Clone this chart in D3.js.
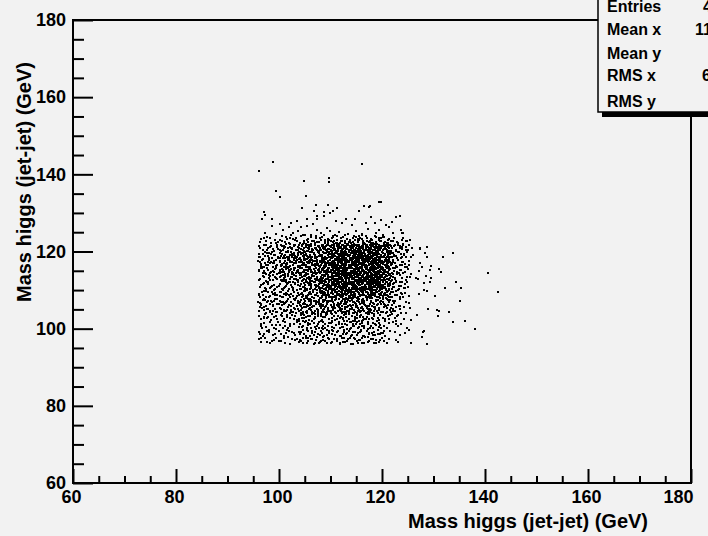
<!DOCTYPE html>
<html><head><meta charset="utf-8">
<script src="https://cdn.jsdelivr.net/npm/d3@7"></script>
<style>
html,body{margin:0;padding:0;background:#f2f2f2;}
svg{display:block;}
text{font-family:"Liberation Sans",Arial,Helvetica,sans-serif;font-weight:bold;fill:#000;}
</style>
</head><body>
<svg id="c" width="708" height="536"></svg>
<script>
// ---------------- data ----------------
const xMajorTicks = [60, 80, 100, 120, 140, 160, 180];
const yMajorTicks = [60, 80, 100, 120, 140, 160, 180];
const xTitle = "Mass higgs (jet-jet) (GeV)";
const yTitle = "Mass higgs (jet-jet) (GeV)";
const statsLabels = ["Entries", "Mean x", "Mean y", "RMS x", "RMS y"];
const statsValues = ["4000", "112.4", "112", "6.874", "7.1"];

// scatter points, flat list of (mjj_x, mjj_y) pairs in GeV
const massPairs = [
// upper tail
96.1,140.9, 98.9,143.1, 99.4,135.7, 100.2,134.1, 104.9,138.3, 105.2,134.4, 109.8,139.1, 109.8,138.0, 116.2,142.7,
104.4,131.3, 107.2,132.1, 106.8,130.6, 109.5,132.1, 108.8,130.3, 108.8,129.2, 109.9,129.9, 111.2,131.3, 110.4,130.4,
107.4,129.1, 107.4,128.5, 97.1,130.2, 97.3,129.5, 96.7,128.3, 98.6,128.3, 105.4,128.3, 113.1,128.3, 114.8,128.3,
115.5,130.6, 116.5,131.8, 117.4,131.5, 117.7,131.9, 119.4,132.7, 119.9,132.7, 117.8,128.9, 122.7,128.9, 123.4,129.1,
102.4,127.4, 111.0,127.8, 114.2,126.9, 116.8,127.5, 103.5,127.9, 119.8,128.1, 121.9,127.7, 100.1,127.1, 106.6,127.2,
// y 124-127
98.6,126.6, 100.8,125.5, 101.9,126.4, 104.3,126.3, 105.4,126.6, 107.4,125.6, 109.3,126.0, 109.9,125.4, 112.3,127.3,
118.6,127.3, 120.7,126.9, 121.4,126.3, 123.6,125.7, 123.9,124.7, 99.5,124.6, 102.7,124.9, 103.6,125.2, 106.2,124.4,
108.1,124.8, 110.8,124.3, 111.6,125.1, 113.4,124.6, 114.9,125.3, 116.1,124.5, 117.3,125.8, 118.9,124.9, 120.1,124.2,
122.2,124.8, 97.2,124.9, 105.1,124.2, 115.6,124.1, 119.5,125.6, 124.0,124.7,
// y 122-124
96.3,122.4, 97.1,123.6, 97.7,123.7, 98.4,122.2, 99.2,123.1, 100.5,122.7, 101.3,123.8, 101.9,122.3, 102.8,123.3,
103.5,122.6, 104.2,123.9, 104.9,122.1, 105.7,123.2, 106.4,122.8, 107.1,123.5, 107.8,122.4, 108.3,123.7, 108.9,122.9,
109.5,122.2, 110.2,123.4, 110.7,122.6, 111.3,123.1, 111.9,122.3, 112.4,123.8, 112.8,122.7, 113.3,123.3, 113.9,122.1,
114.4,123.6, 114.8,122.9, 115.3,122.4, 115.8,123.5, 116.3,122.8, 116.9,123.9, 117.4,122.5, 117.9,123.2, 118.3,122.2,
118.8,123.7, 119.4,122.9, 119.9,123.4, 120.5,122.4, 121.1,123.1, 121.7,122.6, 122.4,123.5, 123.2,122.3, 124.1,123.4,
125.4,122.9, 99.8,122.5, 106.9,122.2, 110.4,123.9, 113.6,122.5, 116.1,123.2, 118.1,122.9, 120.2,123.8, 109.7,123.0,
115.0,123.8, 124.7,122.8, 124.8,122.6, 123.9,123.0,
// y 120-122
96.2,121.3, 96.8,120.4, 97.4,121.8, 97.9,120.9, 98.5,121.5, 99.0,120.2, 99.6,121.1, 99.9,120.7,
100.3,121.6, 100.8,120.5, 101.2,121.2, 101.7,120.1, 102.1,121.9, 102.6,120.8, 103.0,121.4, 103.4,120.3, 103.8,121.0, 103.9,121.7,
104.2,120.6, 104.5,121.5, 104.9,120.2, 105.3,121.1, 105.6,121.8, 105.9,120.7, 106.3,121.3, 106.6,120.4, 106.9,121.7,
107.2,120.9, 107.5,121.4, 107.8,120.1, 107.9,121.0, 104.7,121.9,
108.1,120.5, 108.3,121.6, 108.6,120.9, 108.8,121.2, 109.1,120.3, 109.3,121.8, 109.6,120.7, 109.9,121.4, 110.1,120.1,
110.4,121.0, 110.6,121.7, 110.9,120.6, 111.2,121.3, 111.4,120.2, 111.7,121.9, 111.9,120.8, 108.5,120.0, 110.7,120.4,
112.1,121.2, 112.2,120.4, 112.4,121.8, 112.6,120.9, 112.7,121.5, 112.9,120.2, 113.1,121.1, 113.2,120.6, 113.4,121.9,
113.6,120.3, 113.8,121.4, 113.9,120.8, 114.1,121.7, 114.3,120.1, 114.4,121.0, 114.6,120.5, 114.8,121.6, 114.9,120.9,
115.1,121.3, 115.3,120.4, 115.4,121.8, 115.6,120.7, 115.8,121.1, 115.9,120.2, 116.1,121.5, 116.3,120.6, 116.4,121.9,
116.6,120.3, 116.8,121.2, 116.9,120.8, 117.1,121.6, 117.3,120.1, 117.4,121.0, 117.6,120.5, 117.8,121.4, 117.9,120.9,
118.1,121.8, 118.3,120.4, 118.4,121.2, 118.6,120.7, 118.8,121.5, 118.9,120.2, 119.1,121.1, 119.3,120.6, 119.4,121.7,
119.6,120.3, 119.8,121.3, 119.9,120.9, 112.5,120.0, 114.0,121.3, 116.0,120.0, 118.5,121.9,
120.2,121.4, 120.4,120.6, 120.7,121.8, 120.9,120.3, 121.2,121.1, 121.4,120.8, 121.6,121.6, 121.8,120.2, 120.5,121.0,
122.3,121.3, 122.7,120.5, 123.1,121.7, 123.5,120.9, 123.8,121.2, 124.6,120.4, 125.8,121.0, 124.1,121.7, 125.3,121.7,
127.4,120.8, 128.7,121.1, 127.3,120.6,
// y 118-120
96.4,118.7, 97.6,119.5, 96.9,118.1, 97.2,119.8, 98.1,118.4, 99.3,119.2, 98.7,119.9, 97.9,118.9, 99.8,118.2, 98.4,119.4, 96.1,119.3,
101.5,118.6, 100.2,119.7, 102.9,118.3, 101.1,119.1, 103.6,119.6, 100.7,118.2, 102.3,119.9, 103.1,118.8, 101.9,118.0,
100.4,118.9, 103.8,118.1, 102.6,119.4, 101.3,119.8, 102.0,118.5,
104.3,119.3, 106.2,118.1, 105.1,119.8, 107.4,118.6, 104.8,118.4, 106.8,119.5, 105.5,118.9, 107.9,119.1, 104.1,118.0,
106.5,119.9, 105.9,118.5, 107.1,118.2, 104.6,119.6, 106.0,119.2, 107.7,119.7, 105.3,118.1, 104.9,119.0, 106.9,118.8,
108.2,118.9, 110.6,119.4, 109.3,118.2, 111.5,118.7, 108.7,119.7, 110.1,118.5, 111.9,119.3, 109.8,119.9, 108.4,118.3,
110.9,118.1, 109.5,119.0, 111.2,119.8, 108.9,118.6, 110.3,119.2, 111.7,118.4, 109.1,119.5, 108.0,119.2, 110.8,119.7,
109.7,118.5, 111.3,118.0, 108.6,118.0, 110.5,118.8,
112.3,118.5, 114.7,119.2, 113.1,118.1, 116.4,119.6, 115.2,118.7, 117.8,118.3, 112.9,119.8, 119.1,118.9, 114.2,118.4,
118.5,119.5, 113.6,119.1, 116.9,118.2, 115.7,119.9, 112.1,119.3, 117.2,119.0, 119.6,118.2, 114.9,118.0, 113.4,118.8,
118.1,119.7, 116.1,118.6, 112.6,118.1, 115.5,119.4, 119.9,119.1, 117.5,118.7, 113.9,119.6, 114.4,118.9, 116.7,119.3,
118.8,118.4, 112.8,119.0, 115.9,118.3, 117.9,119.9, 113.3,119.4, 119.3,119.8, 114.1,119.9, 116.3,118.0, 118.3,118.9,
112.4,119.6, 115.0,118.5, 117.0,118.4, 119.7,118.6, 113.7,118.4, 114.6,119.5, 116.6,118.8, 118.6,118.1, 112.0,118.8,
115.3,119.1, 117.4,119.6, 119.0,119.4, 113.0,119.2, 114.0,118.2, 116.0,119.7, 117.7,118.0, 118.0,118.6, 119.4,118.0,
115.8,118.9, 112.7,118.4, 113.8,118.0, 114.5,118.6, 116.2,119.1, 117.3,118.5, 118.9,119.2, 119.2,118.5, 115.6,118.1, 113.5,119.9,
120.3,118.8, 121.6,119.4, 120.8,118.2, 121.1,119.9, 120.1,119.5, 121.9,118.6, 120.6,119.1, 121.4,118.0, 120.9,118.7, 121.8,119.7,
122.4,118.9, 123.7,119.3, 122.9,118.3, 123.2,119.8, 122.1,119.6, 123.9,118.6, 124.3,119.2, 125.6,118.5, 124.9,119.9,
126.1,119.1, 128.3,119.5, 133.8,119.7, 128.8,118.7, 131.9,118.5,
// y 116-118
96.3,117.2, 97.5,116.4, 96.7,117.9, 98.2,116.9, 99.1,117.5, 97.1,116.1, 98.8,117.1, 99.7,116.6, 96.5,116.7, 98.0,117.8,
99.4,116.2, 97.8,117.4, 96.9,116.0,
100.6,116.8, 102.2,117.6, 101.4,116.3, 103.3,117.1, 100.1,117.4, 102.8,116.5, 101.8,117.9, 103.7,116.2, 100.9,116.1,
102.5,117.2, 103.0,117.8, 101.1,117.5, 100.4,116.6, 103.9,117.4, 101.6,116.9, 102.0,116.0,
104.4,116.5, 106.1,117.3, 105.2,116.1, 107.3,117.8, 104.9,117.1, 106.7,116.4, 105.8,117.6, 107.6,116.8, 104.2,117.9,
106.4,116.9, 105.5,117.4, 107.0,116.2, 104.7,116.8, 106.0,117.9, 107.9,117.2, 105.0,116.6, 106.9,117.5, 104.0,116.3,
105.7,116.0, 107.4,116.5,
108.3,116.9, 110.5,117.5, 109.2,116.2, 111.4,117.1, 108.8,117.8, 110.0,116.7, 111.8,116.3, 109.6,117.3, 108.1,116.4,
110.8,117.9, 109.4,117.0, 111.1,116.6, 108.6,117.4, 110.2,116.0, 111.6,117.7, 109.0,116.8, 108.4,117.2, 110.7,116.5,
109.9,117.7, 111.3,116.1, 108.0,117.6, 110.4,117.1, 109.7,116.4, 111.9,117.4,
112.2,116.4, 114.5,117.3, 113.0,116.9, 116.3,117.7, 115.1,116.2, 117.6,116.8, 112.8,117.5, 119.2,116.5, 114.1,117.9,
118.4,117.1, 113.5,116.1, 116.8,116.6, 115.6,117.4, 112.0,117.0, 117.1,117.9, 119.5,117.3, 114.8,116.7, 113.3,117.2,
118.0,116.3, 116.0,117.1, 112.5,116.8, 115.4,117.8, 119.8,116.9, 117.4,116.4, 113.8,117.7, 114.3,116.5, 116.6,117.0,
118.7,117.6, 112.9,116.2, 115.8,116.8, 117.9,117.4, 113.2,117.8, 119.0,117.9, 114.0,116.3, 116.2,116.1, 118.2,116.9,
112.3,117.3, 115.2,117.6, 117.2,117.2, 119.6,116.1, 113.6,116.6, 114.7,117.6, 116.5,116.5, 118.5,116.2, 112.6,117.9,
115.0,116.4, 117.5,117.7, 119.3,117.0, 113.1,116.5, 114.2,117.1, 116.9,117.5, 117.8,116.0, 118.9,116.7, 119.9,117.6,
115.7,116.0, 112.7,116.6, 113.9,116.0, 114.6,116.9, 116.4,117.4, 117.0,116.3, 118.6,117.8, 119.4,116.6, 115.5,117.0,
113.4,117.4, 118.1,117.5, 116.7,117.8, 112.1,117.7, 114.9,117.9,
120.2,116.7, 121.5,117.3, 120.7,116.1, 121.0,117.8, 120.4,117.2, 121.8,116.4, 120.9,116.9, 121.3,116.0, 120.0,117.6,
121.7,117.1, 120.6,117.9, 122.5,117.0, 123.4,116.4, 122.2,117.7, 123.8,117.3, 122.8,116.2, 123.1,117.9,
124.5,116.8, 125.2,117.5, 124.8,116.1, 127.4,116.9, 127.7,116.1, 129.6,116.2,
// y 114-116
96.2,115.1, 97.3,114.3, 96.6,115.8, 98.4,114.7, 99.2,115.4, 97.0,114.9, 98.9,115.9, 99.6,114.1, 96.8,114.5, 97.9,115.3,
99.0,114.6, 97.6,115.7, 98.1,114.0,
100.5,114.6, 102.3,115.5, 101.2,114.2, 103.4,115.0, 100.2,115.3, 102.7,114.4, 101.7,115.8, 103.6,114.8, 100.8,114.0,
102.0,115.1, 103.1,115.7, 101.4,115.4, 100.1,114.8, 103.8,114.3, 101.9,114.7, 102.5,114.1,
104.3,114.4, 106.2,115.2, 105.1,114.0, 107.2,115.6, 104.8,115.0, 106.6,114.3, 105.9,115.5, 107.7,114.7, 104.1,115.8,
106.3,114.8, 105.4,115.3, 107.1,114.1, 104.6,114.6, 106.0,115.9, 107.8,115.1, 105.2,114.5, 106.8,115.4, 104.0,114.2,
105.6,114.9, 107.4,114.4,
108.2,114.8, 110.4,115.4, 109.1,114.1, 111.5,115.0, 108.7,115.7, 110.1,114.6, 111.7,114.2, 109.5,115.2, 108.0,114.3,
110.9,115.8, 109.3,114.9, 111.2,114.5, 108.5,115.3, 110.3,114.0, 111.8,115.6, 109.8,114.7, 108.4,115.1, 110.6,114.4,
109.7,115.6, 111.0,114.0, 108.9,115.9, 110.7,115.0, 109.4,114.3, 111.4,115.3,
112.3,114.3, 114.6,115.2, 113.1,114.8, 116.2,115.6, 115.0,114.1, 117.7,114.7, 112.9,115.4, 119.1,114.4, 114.2,115.8,
118.3,115.0, 113.4,114.0, 116.7,114.5, 115.5,115.3, 112.1,114.9, 117.0,115.8, 119.6,115.2, 114.9,114.6, 113.2,115.1,
118.1,114.2, 116.1,115.0, 112.6,114.7, 115.3,115.7, 119.9,114.8, 117.3,114.3, 113.7,115.6, 114.4,114.4, 116.5,114.9,
118.8,115.5, 112.8,114.1, 115.7,114.7, 117.8,115.3, 113.0,115.7, 119.3,115.8, 114.0,114.2, 116.3,114.0, 118.4,114.8,
112.4,115.2, 115.1,115.5, 117.4,115.1, 119.7,114.0, 113.5,114.5, 114.7,115.5, 116.6,114.4, 118.6,114.1, 112.5,115.8,
115.9,114.3, 117.6,115.6, 119.2,114.9, 113.3,114.4, 114.1,115.0, 116.9,115.4, 117.9,114.0, 118.9,114.6, 119.8,115.5,
115.6,114.0, 112.7,114.5, 113.8,114.0, 114.5,114.8, 116.4,115.3, 117.1,114.2, 118.5,115.7, 119.4,114.5, 115.4,114.9, 116.8,115.9,
120.3,114.6, 121.4,115.2, 120.8,114.0, 121.1,115.7, 120.1,115.3, 121.9,114.4, 120.5,114.9, 121.6,114.1, 120.9,115.8, 121.2,114.8,
122.4,114.9, 123.3,114.3, 122.1,115.6, 123.7,115.2, 122.9,114.1, 124.4,114.7, 125.1,115.4, 125.7,114.2,
129.4,115.2, 131.1,115.4, 131.4,114.8, 140.6,114.5, 127.1,114.9,
// y 112-114
96.4,113.0, 97.4,112.3, 96.9,113.7, 98.3,112.6, 99.3,113.4, 97.8,112.1, 98.8,113.8, 99.7,112.9, 96.1,112.5, 98.0,113.2,
100.6,112.4, 102.4,113.3, 101.3,112.0, 103.3,112.9, 100.3,113.6, 102.8,112.2, 101.8,113.7, 103.7,112.6, 100.9,113.1,
102.1,112.8, 103.0,113.9, 101.0,112.3,
104.4,112.3, 106.3,113.1, 105.2,112.0, 107.3,113.5, 104.9,112.9, 106.7,112.2, 105.8,113.4, 107.6,112.7, 104.2,113.8,
106.1,112.6, 105.5,113.2, 107.0,112.1, 104.7,112.5, 106.4,113.7, 107.9,113.0, 105.0,113.6,
108.3,112.7, 110.5,113.3, 109.2,112.1, 111.4,112.9, 108.8,113.6, 110.0,112.5, 111.7,112.1, 109.6,113.0, 108.1,112.3,
110.8,113.7, 109.4,112.8, 111.1,112.4, 108.6,113.2, 110.2,112.0, 111.9,113.5, 109.0,112.6, 108.4,113.9, 110.7,112.3,
109.9,113.4, 111.3,113.9, 108.9,112.0, 110.4,112.8,
112.2,112.3, 114.5,113.1, 113.0,112.7, 116.3,113.5, 115.1,112.0, 117.6,112.6, 112.8,113.3, 119.2,112.2, 114.1,113.7,
118.4,112.9, 113.5,112.0, 116.8,112.4, 115.6,113.2, 112.0,112.8, 117.1,113.6, 119.5,113.0, 114.8,112.5, 113.3,113.1,
118.0,112.1, 116.0,112.9, 112.5,112.6, 115.4,113.6, 119.8,112.7, 117.4,112.2, 113.8,113.5, 114.3,112.2, 116.6,112.8,
118.7,113.4, 112.9,112.0, 115.8,112.5, 117.9,113.2, 113.2,113.8, 119.0,113.7, 114.0,112.1, 116.2,112.0, 118.2,112.7,
112.3,113.1, 115.2,113.4, 117.2,113.0, 119.6,112.0, 113.6,112.4, 114.7,113.4, 116.5,112.3, 118.5,112.0, 112.6,113.7,
115.0,112.3, 117.5,113.5, 119.3,112.8, 113.1,112.4, 114.2,112.9, 116.9,113.2, 117.8,112.0, 118.9,112.6, 119.9,113.5,
115.7,113.8, 116.4,113.9,
120.2,112.6, 121.5,113.1, 120.7,112.0, 121.0,113.6, 120.4,113.2, 121.8,112.3, 120.9,112.8, 121.3,113.9, 120.0,113.5,
122.5,112.8, 123.4,112.2, 122.2,113.5, 123.8,113.1, 122.8,112.0, 124.6,112.6, 125.4,113.5, 124.9,112.1,
129.6,113.2, 129.4,112.2, 128.5,113.7, 134.4,112.2, 126.6,113.2, 126.9,112.8,
// y 110-112
96.3,110.9, 97.5,110.2, 96.8,111.6, 98.2,110.5, 99.1,111.3, 97.1,111.9, 98.7,111.0, 99.6,110.7, 97.9,111.5,
100.5,110.3, 102.3,111.2, 101.2,110.8, 103.4,110.1, 100.2,111.5, 102.7,110.6, 101.7,111.8, 103.6,111.4, 100.8,110.0,
102.0,110.4, 103.1,111.7, 101.4,111.1,
104.3,110.2, 106.2,111.0, 105.1,110.6, 107.2,111.4, 104.8,111.8, 106.6,110.1, 105.9,111.3, 107.7,110.5, 104.1,111.1,
106.3,111.7, 105.4,110.3, 107.1,110.9, 104.6,110.7, 106.0,110.4, 107.8,111.6, 105.6,111.9,
108.2,110.6, 110.4,111.2, 109.1,110.0, 111.5,110.8, 108.7,111.5, 110.1,110.4, 111.7,111.9, 109.5,111.0, 108.0,110.1,
110.9,111.6, 109.3,110.7, 111.2,110.3, 108.5,111.1, 110.3,111.9, 111.8,110.5, 109.8,111.4, 108.4,111.8, 110.6,110.2,
109.7,110.4, 111.0,111.3,
112.3,110.2, 114.6,111.1, 113.1,110.7, 116.2,111.5, 115.0,110.0, 117.7,110.6, 112.9,111.3, 119.1,110.3, 114.2,111.7,
118.3,110.9, 113.4,110.0, 116.7,110.4, 115.5,111.2, 112.1,110.8, 117.0,111.7, 119.6,111.1, 114.9,110.5, 113.2,111.0,
118.1,110.1, 116.1,110.9, 112.6,110.6, 115.3,111.6, 119.9,110.7, 117.3,110.2, 113.7,111.5, 114.4,110.3, 116.5,110.8,
118.8,111.4, 112.8,111.9, 115.7,110.6, 117.8,111.2, 113.0,111.6, 119.3,111.7, 114.0,110.1, 116.3,110.0, 118.4,110.7,
112.4,111.4, 115.1,111.9, 117.4,111.0, 119.7,110.0, 113.5,110.4, 114.7,111.4, 116.6,110.3, 118.6,111.8, 112.5,110.0,
115.9,110.2, 117.6,111.5, 119.2,110.8,
120.3,110.5, 121.4,111.1, 120.8,110.0, 121.1,111.6, 120.1,111.2, 121.9,110.3, 120.5,110.8, 121.6,111.9,
122.4,110.8, 123.3,110.2, 122.1,111.5, 123.7,111.1, 124.5,110.6, 125.1,110.9,
128.2,111.8, 128.2,110.0, 128.7,109.8, 135.3,110.6, 132.2,110.5,
// y 108-110
96.2,108.8, 97.4,108.1, 96.7,109.5, 98.3,108.4, 99.2,109.2, 97.0,109.8, 98.8,108.9, 99.7,108.6, 97.8,109.4, 96.4,108.2, 99.0,109.9,
100.6,108.2, 102.4,109.1, 101.3,108.7, 103.3,108.0, 100.3,109.4, 102.8,108.5, 101.8,109.7, 103.7,109.3, 100.9,108.9,
102.1,108.3, 103.0,109.6, 101.5,109.0, 100.1,108.5, 103.9,108.8,
104.4,108.1, 106.3,108.9, 105.2,108.5, 107.3,109.3, 104.9,109.7, 106.7,108.0, 105.8,109.2, 107.6,108.4, 104.2,109.0,
106.1,109.6, 105.5,108.2, 107.0,108.8, 104.7,108.6, 106.4,108.3, 107.9,109.5, 105.0,109.9,
108.3,108.5, 110.5,109.1, 109.2,108.0, 111.4,108.7, 108.8,109.4, 110.0,108.3, 111.7,109.8, 109.6,108.9, 108.1,108.0,
110.8,109.5, 109.4,108.6, 111.1,108.2, 108.6,109.0, 110.2,109.8, 111.9,108.4, 109.0,109.3, 108.4,109.7, 110.7,108.1,
112.2,108.1, 114.5,109.0, 113.0,108.6, 116.3,109.4, 115.1,108.0, 117.6,108.5, 112.8,109.2, 119.2,108.2, 114.1,109.6,
118.4,108.8, 113.5,108.0, 116.8,108.3, 115.6,109.1, 112.0,108.7, 117.1,109.6, 119.5,109.0, 114.8,108.4, 113.3,108.9,
118.0,108.0, 116.0,108.8, 112.5,108.5, 115.4,109.5, 119.8,108.6, 117.4,108.1, 113.8,109.4, 114.3,108.2, 116.6,108.7,
118.7,109.3, 112.9,109.8, 115.8,108.4, 117.9,109.1, 113.2,109.7, 119.0,109.6, 114.0,108.0, 116.2,109.9, 118.2,108.6,
112.3,109.3, 115.2,109.8, 117.2,108.9, 119.6,108.0,
120.2,108.5, 121.5,109.0, 120.7,108.0, 121.0,109.5, 120.4,109.1, 121.8,108.2, 120.9,108.7,
122.5,108.7, 123.4,108.1, 122.2,109.4, 123.8,109.0, 124.5,109.2, 125.3,108.4,
130.3,108.5, 142.5,109.6, 127.2,108.9,
// y 106-108
96.3,106.7, 97.5,106.0, 96.8,107.4, 98.2,106.3, 99.1,107.1, 97.1,107.7, 98.7,106.8, 99.6,106.5, 97.9,107.3, 96.5,106.1, 99.3,107.8,
100.5,106.1, 102.3,107.0, 101.2,106.6, 103.4,106.0, 100.2,107.3, 102.7,106.4, 101.7,107.6, 103.6,107.2, 100.8,106.8,
102.0,106.2, 103.1,107.5, 101.4,106.9, 100.0,106.4, 103.8,106.7,
104.3,106.0, 106.2,106.8, 105.1,106.4, 107.2,107.2, 104.8,107.6, 106.6,106.0, 105.9,107.1, 107.7,106.3, 104.1,106.9,
106.3,107.5, 105.4,106.1, 107.1,106.7, 104.6,106.5, 106.0,106.2, 107.8,107.4, 105.6,107.8,
108.2,106.4, 110.4,107.0, 109.1,106.0, 111.5,106.6, 108.7,107.3, 110.1,106.2, 111.7,107.7, 109.5,106.8, 108.0,106.0,
110.9,107.4, 109.3,106.5, 111.2,106.1, 108.5,106.9, 110.3,107.7, 111.8,106.3, 109.8,107.2,
112.3,106.0, 114.6,106.9, 113.1,106.5, 116.2,107.3, 115.0,106.0, 117.7,106.4, 112.9,107.1, 119.1,106.1, 114.2,107.5,
118.3,106.7, 113.4,106.0, 116.7,106.2, 115.5,107.0, 112.1,106.6, 117.0,107.5, 119.6,106.9, 114.9,106.3, 113.2,106.8,
118.1,106.0, 116.1,106.7, 112.6,106.4, 115.3,107.4, 119.9,106.5, 117.3,106.0, 113.7,107.3, 114.4,106.1, 116.5,106.6,
118.8,107.2, 112.8,107.7, 115.7,106.4, 117.8,107.0, 113.0,107.6, 119.3,107.5, 114.0,106.0, 116.3,107.8, 118.4,106.5,
120.3,106.3, 121.4,106.9, 120.8,106.0, 121.1,107.4, 120.1,107.0, 121.9,106.1,
122.4,106.6, 123.3,106.0, 122.1,107.3, 124.7,107.0, 125.3,106.6, 135.1,107.2,
// y 104-106
96.2,104.6, 97.4,104.0, 96.7,105.3, 98.3,104.2, 99.2,105.0, 97.0,105.6, 98.8,104.7, 99.7,104.4, 97.8,105.2,
100.6,104.0, 102.4,104.9, 101.3,104.5, 103.3,104.1, 100.3,105.2, 102.8,104.3, 101.8,105.5, 103.7,105.1, 100.9,104.7,
102.1,104.1, 103.0,105.4, 101.5,104.8,
104.4,104.0, 106.3,104.8, 105.2,104.3, 107.3,105.1, 104.9,105.5, 106.7,104.1, 105.8,105.0, 107.6,104.2, 104.2,104.8,
106.1,105.4, 105.5,104.0, 107.0,104.6, 104.7,104.4, 106.4,105.7,
108.3,104.3, 110.5,104.9, 109.2,104.1, 111.4,104.5, 108.8,105.2, 110.0,104.1, 111.7,105.6, 109.6,104.7, 108.1,105.8,
110.8,105.3, 109.4,104.4, 111.1,104.0, 108.6,104.8, 110.2,105.6,
112.2,104.0, 114.5,104.8, 113.0,104.4, 116.3,105.2, 115.1,104.1, 117.6,104.3, 112.8,105.0, 119.2,104.0, 114.1,105.4,
118.4,104.6, 113.5,104.1, 116.8,104.1, 115.6,104.9, 112.0,104.5, 117.1,105.4, 119.5,104.8, 114.8,104.2, 113.3,104.7,
118.0,104.0, 116.0,104.6, 112.5,104.3, 115.4,105.3, 119.8,104.4, 117.4,104.9, 113.8,105.2, 114.3,104.0, 116.6,104.5,
118.7,105.1, 112.9,105.6, 115.8,104.3, 117.9,104.9, 113.2,105.5,
120.2,104.4, 121.5,104.9, 120.7,104.0, 121.0,105.3, 121.8,104.2, 122.5,104.5, 123.4,105.0, 122.2,105.2,
124.7,104.1, 125.4,105.3, 133.1,104.4, 130.7,104.8, 131.0,104.5, 129.0,105.0,
// y 102-104
96.5,102.4, 97.2,103.7, 97.0,103.1, 98.5,102.2, 99.0,103.0, 97.7,102.7, 99.4,103.4,
100.7,102.1, 102.1,102.7, 101.0,102.5, 103.2,103.2, 100.4,103.5, 102.9,102.4, 101.5,103.6, 103.8,102.5,
104.5,102.8, 106.0,103.4, 105.3,102.1, 107.0,102.8, 104.6,103.8, 106.8,102.6, 105.7,103.2, 107.5,103.7, 103.9,102.1, 106.5,102.0,
108.4,102.3, 110.2,102.8, 109.3,103.7, 111.3,102.6, 108.9,103.1, 110.3,102.0, 111.5,103.3, 109.7,102.6, 108.1,103.9, 110.7,103.3,
112.4,102.7, 114.8,103.0, 113.3,102.1, 116.0,103.6, 115.2,102.7, 117.5,102.4, 112.7,103.5, 119.3,102.8, 114.4,102.1,
118.5,103.7, 113.6,103.9, 116.5,102.6, 115.7,103.2, 112.0,103.0, 117.2,103.8, 119.4,102.2, 114.7,102.5, 113.0,103.1,
118.3,102.6, 116.3,102.2, 112.8,103.8, 115.5,102.1, 119.7,103.5, 117.1,103.1,
120.5,102.5, 121.2,103.4, 120.6,102.1, 121.9,103.7, 122.6,102.8, 123.1,103.6,
124.2,102.4, 125.6,102.3, 126.7,103.6, 130.8,103.3,
// y 100-102
96.6,100.7, 97.1,101.4, 96.7,100.1, 98.6,101.0, 99.4,100.9, 99.9,101.7,
100.8,100.3, 102.2,101.3, 101.1,100.8, 103.5,101.6, 101.7,100.2, 103.9,100.5,
104.6,100.6, 106.1,101.3, 105.4,100.2, 107.5,101.1, 104.7,101.9, 106.9,100.4, 105.6,101.5, 107.8,100.2,
108.5,100.8, 110.3,101.6, 109.0,100.3, 111.6,101.2, 108.6,101.8, 110.2,100.5, 111.9,100.1, 109.8,101.4,
112.4,100.4, 114.3,101.3, 113.2,100.9, 116.1,101.5, 115.3,100.2, 117.8,100.8, 112.6,101.9, 119.4,100.5, 113.9,100.1,
118.6,101.2, 113.7,101.6, 116.6,100.2, 115.8,101.1, 117.3,101.8, 119.7,101.0, 114.6,100.7, 118.2,100.3, 116.2,100.6,
112.3,101.3, 115.2,101.6,
120.4,100.7, 121.3,101.5, 120.9,100.2, 122.7,101.1, 123.2,100.6,
124.9,100.1, 133.8,101.6, 136.1,102.0,
// y 98-100
96.4,98.7, 97.6,99.3, 96.9,98.2, 98.1,99.2, 99.3,98.7, 99.5,99.8,
100.3,98.5, 102.5,99.2, 101.4,98.8, 103.2,98.3, 101.6,99.7, 103.8,99.1,
104.1,98.6, 106.4,99.3, 105.3,98.1, 107.0,99.1, 104.6,99.7, 106.8,98.4, 105.7,99.5, 107.9,98.4,
108.4,98.8, 110.2,99.6, 109.3,98.3, 111.3,99.2, 108.5,99.8, 110.3,98.5, 111.9,98.1, 109.7,99.4,
112.5,98.6, 114.4,99.1, 113.3,98.9, 116.0,99.5, 115.2,98.4, 117.5,98.8, 112.7,99.7, 119.3,98.5, 114.0,98.1,
118.5,99.2, 113.6,99.4, 116.5,98.2, 115.7,99.1, 117.2,99.8, 119.8,99.0, 118.3,98.3,
120.1,98.9, 121.6,99.5, 120.6,98.2, 122.6,99.1, 123.5,98.4,
124.5,98.8, 125.3,99.7, 138.1,99.8, 128.2,99.5, 128.0,99.2,
// y 96-98
96.1,97.3, 97.7,96.6, 96.6,97.7, 98.6,96.8, 99.5,97.5,
100.4,96.8, 102.6,97.4, 101.1,96.3, 103.5,97.2, 101.7,97.8, 103.9,96.5,
104.2,96.9, 106.5,97.3, 105.4,96.2, 107.1,97.1, 104.7,97.7, 106.9,96.4, 105.6,97.5, 107.8,96.4,
108.1,96.8, 110.7,97.4, 109.4,96.3, 111.2,97.2, 108.6,97.8, 110.2,96.5, 111.9,96.1, 109.8,97.2,
112.4,96.6, 114.7,97.3, 113.2,96.9, 116.1,97.5, 115.3,96.4, 117.4,96.8, 112.6,97.7, 119.4,96.5, 114.3,96.1,
118.2,97.4, 113.7,97.6, 116.6,96.2, 115.8,97.1, 117.3,97.8, 119.7,97.0, 118.9,96.3,
120.4,96.9, 121.3,97.3, 120.9,96.4, 122.7,97.1, 123.2,96.6,
125.6,96.2, 127.8,97.8, 128.8,96.0
];

// further points of the dense body
const massPairsDense = [
// core x 110-121
110.3,121.6, 110.7,121.2, 111.2,121.9, 111.6,121.4, 112.0,121.0, 112.5,121.7, 112.9,121.3, 113.3,121.8, 113.8,121.1, 114.2,121.5,
114.6,121.9, 115.1,121.3, 115.5,121.6, 115.9,121.0, 116.4,121.4, 116.8,121.8, 117.2,121.2, 117.7,121.7, 118.1,121.5, 118.5,121.1,
119.0,121.9, 119.4,121.4, 119.8,121.0, 120.3,121.6, 120.7,121.3,
110.1,120.3, 110.5,120.8, 111.0,120.1, 111.4,120.6, 111.8,120.9, 112.3,120.4, 112.7,120.0, 113.1,120.7, 113.6,120.2, 114.0,120.5,
114.4,120.9, 114.9,120.1, 115.3,120.6, 115.7,120.3, 116.2,120.8, 116.6,120.0, 117.0,120.5, 117.5,120.2, 117.9,120.7, 118.3,120.4,
118.8,120.9, 119.2,120.1, 119.6,120.6, 120.1,120.3, 120.5,120.8, 120.9,120.0,
110.2,119.5, 110.7,119.1, 111.1,119.8, 111.5,119.3, 112.0,119.6, 112.4,119.0, 112.8,119.9, 113.3,119.4, 113.7,119.2, 114.1,119.7,
114.6,119.0, 115.0,119.5, 115.4,119.8, 115.9,119.2, 116.3,119.6, 116.7,119.1, 117.2,119.9, 117.6,119.3, 118.0,119.7, 118.5,119.0,
118.9,119.4, 119.3,119.8, 119.8,119.2, 120.2,119.6, 120.6,119.1, 121.1,119.5,
110.0,118.2, 110.4,118.7, 110.9,118.0, 111.3,118.5, 111.7,118.9, 112.2,118.3, 112.6,118.6, 113.0,118.1, 113.5,118.8, 113.9,118.4,
114.3,118.0, 114.8,118.7, 115.2,118.2, 115.6,118.9, 116.1,118.5, 116.5,118.1, 116.9,118.6, 117.4,118.3, 117.8,118.8, 118.2,118.0,
118.7,118.4, 119.1,118.9, 119.5,118.2, 120.0,118.7, 120.4,118.5, 120.8,118.1,
110.3,117.4, 110.6,117.0, 111.0,117.7, 111.5,117.2, 111.9,117.9, 112.3,117.5, 112.8,117.1, 113.2,117.8, 113.6,117.3, 114.1,117.6,
114.5,117.0, 114.9,117.9, 115.4,117.4, 115.8,117.1, 116.2,117.7, 116.7,117.3, 117.1,117.8, 117.5,117.5, 118.0,117.0, 118.4,117.6,
118.8,117.2, 119.3,117.9, 119.7,117.4, 120.1,117.1, 120.6,117.7, 121.0,117.3,
110.1,116.6, 110.5,116.2, 110.9,116.9, 111.4,116.4, 111.8,116.0, 112.2,116.7, 112.7,116.3, 113.1,116.8, 113.5,116.1, 114.0,116.5,
114.4,116.9, 114.8,116.2, 115.3,116.6, 115.7,116.0, 116.1,116.4, 116.6,116.8, 117.0,116.3, 117.4,116.7, 117.9,116.1, 118.3,116.5,
118.7,116.9, 119.2,116.2, 119.6,116.6, 120.0,116.0, 120.5,116.4, 120.9,116.8,
110.2,115.3, 110.6,115.8, 111.1,115.1, 111.5,115.6, 111.9,115.0, 112.4,115.4, 112.8,115.9, 113.2,115.2, 113.7,115.7, 114.1,115.0,
114.5,115.5, 115.0,115.8, 115.4,115.3, 115.8,115.6, 116.3,115.1, 116.7,115.9, 117.1,115.4, 117.6,115.0, 118.0,115.7, 118.4,115.2,
118.9,115.5, 119.3,115.9, 119.7,115.1, 120.2,115.6, 120.6,115.3, 121.1,115.8,
110.0,114.7, 110.4,114.3, 110.8,114.9, 111.3,114.1, 111.7,114.6, 112.1,114.2, 112.6,114.8, 113.0,114.4, 113.4,114.0, 113.9,114.7,
114.3,114.3, 114.7,114.9, 115.2,114.5, 115.6,114.1, 116.0,114.8, 116.5,114.2, 116.9,114.6, 117.3,114.0, 117.8,114.5, 118.2,114.9,
118.6,114.3, 119.1,114.7, 119.5,114.1, 119.9,114.6, 120.4,114.2, 120.8,114.8,
110.3,113.2, 110.7,113.6, 111.2,113.0, 111.6,113.8, 112.0,113.4, 112.5,113.9, 112.9,113.1, 113.3,113.5, 113.8,113.7, 114.2,113.3,
114.6,113.0, 115.1,113.6, 115.5,113.9, 115.9,113.2, 116.4,113.8, 116.8,113.4, 117.2,113.1, 117.7,113.7, 118.1,113.3, 118.5,113.9,
119.0,113.5, 119.4,113.0, 119.8,113.6, 120.3,113.2, 120.7,113.8,
110.1,112.5, 110.5,112.1, 111.0,112.8, 111.4,112.3, 111.8,112.9, 112.3,112.6, 112.7,112.0, 113.1,112.4, 113.6,112.7, 114.0,112.2,
114.4,112.9, 114.9,112.5, 115.3,112.1, 115.7,112.8, 116.2,112.3, 116.6,112.6, 117.0,112.0, 117.5,112.7, 117.9,112.4, 118.3,112.9,
118.8,112.2, 119.2,112.5, 119.6,112.8, 120.1,112.1, 120.5,112.6,
110.2,111.4, 110.6,111.8, 111.1,111.1, 111.5,111.6, 111.9,111.0, 112.4,111.7, 112.8,111.3, 113.2,111.9, 113.7,111.5, 114.1,111.2,
114.5,111.8, 115.0,111.0, 115.4,111.6, 115.8,111.4, 116.3,111.9, 116.7,111.1, 117.1,111.7, 117.6,111.3, 118.0,111.5, 118.4,111.0,
118.9,111.8, 119.3,111.2, 119.7,111.6, 120.2,111.4,
110.0,110.6, 110.4,110.2, 110.9,110.9, 111.3,110.4, 111.7,110.7, 112.2,110.1, 112.6,110.8, 113.0,110.3, 113.5,110.5, 113.9,110.0,
114.3,110.7, 114.8,110.4, 115.2,110.9, 115.6,110.2, 116.1,110.6, 116.5,110.0, 116.9,110.8, 117.4,110.3, 117.8,110.5, 118.2,110.1,
118.7,110.9, 119.1,110.4, 119.5,110.7, 120.0,110.2,
110.3,109.3, 110.8,109.7, 111.2,109.1, 111.6,109.8, 112.1,109.4, 112.5,109.0, 112.9,109.6, 113.4,109.2, 113.8,109.9, 114.2,109.5,
114.7,109.1, 115.1,109.7, 115.5,109.3, 116.0,109.8, 116.4,109.0, 116.8,109.5, 117.3,109.2, 117.7,109.9, 118.1,109.6, 118.6,109.1,
119.0,109.4, 119.4,109.8, 119.9,109.3,
110.4,122.5, 111.3,122.1, 112.1,122.8, 112.9,122.3, 113.8,122.6, 114.6,122.0, 115.4,122.9, 116.3,122.4, 117.1,122.7, 117.9,122.2,
118.8,122.5, 119.6,122.8, 120.4,122.1,
// x 104-110
104.1,122.3, 104.5,121.4, 104.8,122.8, 105.2,121.9, 105.6,122.5, 105.9,121.2, 106.3,122.0, 106.7,122.7, 107.0,121.6, 107.4,122.4,
107.8,121.1, 108.1,122.9, 108.5,121.7, 108.9,122.2, 109.2,121.5, 109.6,122.6, 109.9,121.3,
104.3,119.6, 104.6,120.5, 105.0,119.2, 105.4,120.1, 105.7,120.8, 106.1,119.8, 106.5,120.3, 106.8,119.4, 107.2,120.7, 107.6,119.9,
107.9,120.4, 108.3,119.1, 108.7,120.6, 109.0,119.5, 109.4,120.2, 109.8,119.3,
104.0,118.4, 104.4,117.3, 104.7,118.8, 105.1,117.7, 105.5,118.1, 105.8,117.0, 106.2,118.6, 106.6,117.5, 106.9,118.3, 107.3,117.9,
107.7,118.9, 108.0,117.2, 108.4,118.5, 108.8,117.6, 109.1,118.0, 109.5,117.4, 109.9,118.7,
104.2,115.7, 104.6,116.6, 104.9,115.3, 105.3,116.2, 105.7,116.9, 106.0,115.9, 106.4,116.4, 106.8,115.5, 107.1,116.8, 107.5,115.1,
107.9,116.0, 108.2,116.5, 108.6,115.6, 109.0,116.3, 109.3,115.2, 109.7,116.7,
104.1,114.3, 104.5,113.4, 104.8,114.8, 105.2,113.9, 105.6,114.1, 105.9,113.2, 106.3,114.6, 106.7,113.7, 107.0,114.4, 107.4,113.0,
107.8,114.9, 108.1,113.5, 108.5,114.0, 108.9,113.8, 109.2,114.7, 109.6,113.3,
104.3,111.6, 104.7,112.5, 105.0,111.2, 105.4,112.1, 105.8,112.8, 106.1,111.8, 106.5,112.3, 106.9,111.4, 107.2,112.7, 107.6,111.0,
108.0,111.9, 108.3,112.4, 108.7,111.5, 109.1,112.9, 109.4,111.3, 109.8,112.2,
104.0,110.4, 104.4,109.3, 104.8,110.8, 105.1,109.7, 105.5,110.1, 105.9,109.0, 106.2,110.6, 106.6,109.5, 107.0,110.3, 107.3,109.9,
107.7,110.9, 108.1,109.2, 108.4,110.5, 108.8,109.6, 109.2,110.0, 109.5,109.4, 109.9,110.7,
104.2,107.5, 104.6,108.4, 105.0,107.1, 105.3,108.0, 105.7,108.7, 106.1,107.8, 106.4,108.2, 106.8,107.3, 107.2,108.6, 107.5,107.0,
107.9,107.9, 108.3,108.3, 108.6,107.4, 109.0,108.8, 109.4,107.2, 109.7,108.1,
104.1,106.2, 104.5,105.3, 104.9,106.7, 105.2,105.6, 105.6,106.0, 106.0,105.1, 106.3,106.5, 106.7,105.8, 107.1,106.3, 107.4,105.0,
107.8,106.8, 108.2,105.4, 108.5,106.1, 108.9,105.7, 109.3,106.6, 109.6,105.2,
104.3,104.1, 104.8,103.5, 105.4,104.7, 105.9,103.2, 106.5,104.4, 107.0,103.8, 107.6,104.9, 108.1,103.4, 108.7,104.2, 109.2,103.7,
109.8,104.6,
// x 121-125
121.2,122.2, 121.7,121.3, 122.1,122.7, 122.6,121.8, 123.0,122.4, 123.5,121.5, 124.0,122.0, 124.6,121.2,
121.0,120.4, 121.5,119.5, 121.9,120.8, 122.4,119.2, 122.8,120.1, 123.3,119.8, 123.8,120.6, 124.3,119.4, 125.0,120.3,
121.3,117.6, 121.8,118.5, 122.2,117.2, 122.7,118.8, 123.1,117.9, 123.6,118.2, 124.1,117.4, 124.7,118.6,
121.1,116.3, 121.6,115.4, 122.0,116.8, 122.5,115.7, 122.9,116.1, 123.4,115.2, 123.9,116.6, 124.4,115.9, 125.3,116.4,
121.2,114.5, 121.7,113.6, 122.1,114.2, 122.6,113.1, 123.0,114.8, 123.5,113.9, 124.0,114.3, 124.8,113.4,
121.0,112.2, 121.5,111.3, 121.9,112.7, 122.4,111.8, 122.8,112.4, 123.3,111.1, 123.8,112.0, 124.5,111.6,
121.3,110.3, 121.8,109.4, 122.2,110.8, 122.7,109.7, 123.1,110.1, 123.6,109.2, 124.2,110.5,
121.1,108.4, 121.6,107.5, 122.0,108.1, 122.5,107.2, 122.9,108.7, 123.4,107.8, 124.0,108.3,
121.2,106.2, 121.7,105.3, 122.3,106.6, 122.8,105.7, 123.5,106.0, 124.3,105.5,
121.0,104.3, 121.6,103.5, 122.2,104.7, 122.9,103.2, 123.7,104.0,
121.3,102.4, 122.1,101.6, 122.8,102.1, 123.6,101.3,
// x 96-104
96.5,123.2, 97.4,122.6, 98.3,123.5, 99.4,122.1, 100.2,123.0, 101.1,122.4, 102.2,123.6, 103.2,122.9,
96.4,120.9, 97.0,121.6, 97.7,120.3, 98.3,121.2, 98.9,120.6, 99.6,121.8, 100.4,120.1, 101.0,121.4, 101.8,120.8, 102.4,121.0,
103.1,121.7, 103.7,120.4,
96.2,118.5, 96.8,119.3, 97.3,118.8, 98.0,119.6, 98.6,118.2, 99.1,119.0, 99.9,118.7, 100.6,119.4, 101.2,118.3, 101.7,119.8,
102.5,118.9, 103.0,119.2, 103.5,118.6, 103.9,119.9,
96.0,117.6, 96.6,116.3, 97.2,117.0, 97.8,116.6, 98.5,117.3, 99.0,116.9, 99.5,117.7, 100.3,116.2, 100.9,117.1, 101.5,116.8,
102.2,117.4, 102.7,116.5, 103.4,117.9, 103.8,116.1,
96.1,114.9, 96.7,115.6, 97.4,114.2, 97.9,115.2, 98.3,114.5, 98.8,115.0, 99.4,115.7, 100.0,114.4, 100.7,115.3, 101.1,114.0,
101.8,115.9, 102.6,114.7, 103.0,115.1, 103.7,114.6,
96.3,112.8, 97.0,113.4, 97.6,112.2, 98.2,113.7, 98.9,112.5, 99.5,113.1, 100.4,112.7, 101.1,113.5, 101.9,112.0, 102.6,113.3,
103.5,112.6,
96.5,111.4, 97.2,110.6, 97.8,111.7, 98.5,110.9, 99.3,110.3, 100.0,111.1, 100.9,110.5, 101.6,111.5, 102.5,110.8, 103.2,111.9,
96.1,109.1, 96.8,108.6, 97.5,109.7, 98.0,108.3, 98.6,109.4, 99.3,108.8, 100.1,109.5, 100.8,108.1, 101.4,109.2, 102.0,108.7,
102.7,109.9, 103.5,108.4,
96.0,107.0, 96.6,106.4, 97.2,107.5, 97.7,106.8, 98.4,107.2, 98.9,106.2, 99.6,107.6, 100.4,106.9, 101.0,106.5, 101.6,107.3,
102.4,106.0, 103.0,107.8, 103.7,106.6,
96.4,105.5, 97.1,104.8, 97.6,105.1, 98.2,104.5, 98.9,105.8, 99.5,104.2, 100.2,105.4, 101.0,104.9, 101.7,105.7, 102.3,104.3,
103.1,105.0, 103.9,104.6,
96.2,103.4, 97.0,102.8, 97.8,103.0, 98.7,103.7, 99.6,102.5, 100.6,103.2, 101.5,102.9, 102.5,103.6, 103.4,102.3,
96.5,101.2, 97.4,100.5, 98.3,101.6, 99.1,100.3, 100.1,101.0, 101.2,101.8, 102.1,100.7, 103.0,101.3,
96.2,99.1, 97.1,98.5, 98.0,99.6, 98.9,98.3, 100.0,99.3, 100.9,98.0, 102.0,99.5, 103.0,98.8,
96.5,96.6, 97.3,97.6, 98.2,96.3, 99.0,97.1, 100.0,96.8, 101.0,97.5, 102.2,96.1, 103.1,97.0,
// x 104-121, y 96-104
104.2,103.5, 104.8,102.7, 105.3,103.1, 105.9,102.3, 106.4,103.8, 107.0,102.9, 107.5,103.4, 108.1,102.1, 108.6,103.0, 109.2,103.6,
109.7,102.5, 110.3,103.9, 110.8,102.2, 111.4,103.3, 111.9,102.8, 112.5,102.4, 113.0,103.7, 113.6,102.6, 114.1,103.2, 114.7,102.0,
115.2,103.5, 115.8,102.9, 116.3,103.1, 116.9,102.4, 117.4,103.8, 118.0,102.7, 118.5,103.3, 119.1,102.1, 119.6,103.6, 120.2,102.8,
104.0,101.1, 104.5,100.4, 105.1,101.7, 105.6,100.9, 106.2,100.2, 106.7,101.4, 107.3,100.6, 107.8,101.8, 108.4,100.1, 108.9,101.2,
109.5,100.8, 110.0,101.5, 110.6,100.3, 111.1,101.0, 111.7,101.7, 112.2,100.5, 112.8,101.3, 113.3,100.0, 113.9,101.6, 114.4,100.7,
115.0,101.1, 115.5,100.4, 116.1,101.9, 116.6,100.6, 117.2,101.2, 117.7,100.2, 118.3,101.5, 118.8,100.9, 119.4,101.4, 119.9,100.3,
104.3,99.2, 104.9,98.5, 105.4,99.6, 106.0,98.2, 106.5,99.0, 107.1,99.8, 107.6,98.7, 108.2,99.4, 108.7,98.1, 109.3,99.7,
109.8,98.9, 110.4,99.3, 110.9,98.4, 111.5,99.5, 112.0,98.0, 112.6,99.1, 113.1,98.6, 113.7,99.8, 114.2,98.3, 114.8,99.2,
115.3,98.8, 115.9,99.6, 116.4,98.1, 117.0,99.4, 117.5,98.7, 118.1,99.0, 118.6,98.3, 119.2,99.7, 119.7,98.5, 120.3,99.3,
104.1,97.0, 104.6,96.4, 105.2,97.6, 105.7,96.7, 106.3,97.3, 106.8,96.1, 107.4,97.8, 107.9,96.5, 108.5,97.1, 109.0,96.9,
109.6,97.5, 110.1,96.2, 110.7,97.4, 111.2,96.8, 111.8,96.3, 112.3,97.7, 112.9,96.6, 113.4,97.2, 114.0,96.0, 114.5,97.5,
115.1,96.8, 115.6,97.1, 116.2,96.4, 116.7,97.9, 117.3,96.6, 117.8,97.3, 118.4,96.2, 118.9,97.0, 119.5,96.5, 120.0,97.6,
// x 110-121, y 104-109
110.2,107.3, 110.7,106.5, 111.1,107.8, 111.6,106.2, 112.0,107.0, 112.5,107.6, 112.9,106.8, 113.4,107.4, 113.8,106.1, 114.3,107.9,
114.7,106.6, 115.2,107.2, 115.6,106.9, 116.1,107.5, 116.5,106.3, 117.0,107.7, 117.4,106.0, 117.9,107.1, 118.3,106.7, 118.8,107.5,
119.2,106.4, 119.7,107.0, 120.1,107.8, 120.6,106.2,
110.0,104.6, 110.5,105.4, 110.9,104.2, 111.4,105.8, 111.8,104.9, 112.3,105.1, 112.7,104.3, 113.2,105.6, 113.6,104.7, 114.1,105.0,
114.5,104.1, 115.0,105.7, 115.4,104.5, 115.9,105.3, 116.3,104.8, 116.8,105.9, 117.2,104.4, 117.7,105.2, 118.1,104.0, 118.6,105.5,
119.0,104.7, 119.5,105.1, 119.9,104.3, 120.4,105.6,
110.4,108.3, 111.2,108.7, 112.1,108.1, 112.9,108.9, 113.7,108.4, 114.6,108.6, 115.4,108.0, 116.2,108.8, 117.1,108.2, 117.9,108.5,
118.7,108.9, 119.5,108.1, 120.3,108.6,
// y 123-124.5
100.6,123.9, 101.5,123.3, 102.4,124.2, 103.3,123.6, 104.6,124.4, 105.5,123.1, 106.3,123.8, 107.2,124.0, 108.0,123.4, 108.8,124.3,
109.6,123.2, 110.5,123.7, 111.3,124.1, 112.1,123.5, 112.9,124.4, 113.8,123.0, 114.6,123.9, 115.4,123.3, 116.2,124.2, 117.1,123.6,
117.9,123.1, 118.7,124.0, 119.5,123.4, 120.4,123.8, 121.3,123.2
];

// the darkest part of the cloud, read row by row
const massPairsCore = [
108.4,121.4, 109.0,121.0, 109.5,121.7, 110.1,121.2, 110.6,121.9, 111.2,121.5, 111.7,121.1, 112.3,121.6, 112.8,121.3, 113.4,121.8,
113.9,121.0, 114.5,121.4, 115.0,121.7, 115.6,121.2, 116.1,121.5, 116.7,121.9, 117.2,121.1, 117.8,121.6, 118.3,121.3, 118.9,121.8,
119.4,121.0, 120.0,121.5, 120.5,121.2, 121.1,121.7,
108.7,120.8, 109.2,120.3, 109.8,120.6, 110.3,120.1, 110.9,120.4, 111.4,120.9, 112.0,120.2, 112.5,120.7, 113.1,120.0, 113.6,120.5,
114.2,120.8, 114.7,120.3, 115.3,120.1, 115.8,120.6, 116.4,120.9, 116.9,120.4, 117.5,120.7, 118.0,120.0, 118.6,120.5, 119.1,120.2,
119.7,120.8, 120.2,120.3, 120.8,120.6, 121.4,120.1,
108.4,119.2, 109.0,119.6, 109.5,119.9, 110.1,119.4, 110.6,119.0, 111.2,119.7, 111.7,119.3, 112.3,119.8, 112.8,119.5, 113.4,119.1,
113.9,119.6, 114.5,119.9, 115.0,119.4, 115.6,119.0, 116.1,119.7, 116.7,119.2, 117.2,119.8, 117.8,119.5, 118.3,119.1, 118.9,119.6,
119.4,119.3, 120.0,119.9, 120.5,119.4, 121.1,119.0,
108.7,118.4, 109.2,118.0, 109.8,118.7, 110.3,118.2, 110.9,118.9, 111.4,118.5, 112.0,118.1, 112.5,118.6, 113.1,118.3, 113.6,118.8,
114.2,118.0, 114.7,118.4, 115.3,118.7, 115.8,118.2, 116.4,118.5, 116.9,118.9, 117.5,118.1, 118.0,118.6, 118.6,118.3, 119.1,118.8,
119.7,118.0, 120.2,118.5, 120.8,118.2, 121.4,118.7,
108.4,117.8, 109.0,117.3, 109.5,117.6, 110.1,117.1, 110.6,117.4, 111.2,117.9, 111.7,117.2, 112.3,117.7, 112.8,117.0, 113.4,117.5,
113.9,117.8, 114.5,117.3, 115.0,117.1, 115.6,117.6, 116.1,117.9, 116.7,117.4, 117.2,117.7, 117.8,117.0, 118.3,117.5, 118.9,117.2,
119.4,117.8, 120.0,117.3, 120.5,117.6, 121.1,117.1,
108.7,116.2, 109.2,116.6, 109.8,116.9, 110.3,116.4, 110.9,116.0, 111.4,116.7, 112.0,116.3, 112.5,116.8, 113.1,116.5, 113.6,116.1,
114.2,116.6, 114.7,116.9, 115.3,116.4, 115.8,116.0, 116.4,116.7, 116.9,116.2, 117.5,116.8, 118.0,116.5, 118.6,116.1, 119.1,116.6,
119.7,116.3, 120.2,116.9, 120.8,116.4, 121.4,116.0,
108.4,115.4, 109.0,115.0, 109.5,115.7, 110.1,115.2, 110.6,115.9, 111.2,115.5, 111.7,115.1, 112.3,115.6, 112.8,115.3, 113.4,115.8,
113.9,115.0, 114.5,115.4, 115.0,115.7, 115.6,115.2, 116.1,115.5, 116.7,115.9, 117.2,115.1, 117.8,115.6, 118.3,115.3, 118.9,115.8,
119.4,115.0, 120.0,115.5, 120.5,115.2, 121.1,115.7,
108.7,114.8, 109.2,114.3, 109.8,114.6, 110.3,114.1, 110.9,114.4, 111.4,114.9, 112.0,114.2, 112.5,114.7, 113.1,114.0, 113.6,114.5,
114.2,114.8, 114.7,114.3, 115.3,114.1, 115.8,114.6, 116.4,114.9, 116.9,114.4, 117.5,114.7, 118.0,114.0, 118.6,114.5, 119.1,114.2,
119.7,114.8, 120.2,114.3, 120.8,114.6, 121.4,114.1,
108.4,113.2, 109.0,113.6, 109.5,113.9, 110.1,113.4, 110.6,113.0, 111.2,113.7, 111.7,113.3, 112.3,113.8, 112.8,113.5, 113.4,113.1,
113.9,113.6, 114.5,113.9, 115.0,113.4, 115.6,113.0, 116.1,113.7, 116.7,113.2, 117.2,113.8, 117.8,113.5, 118.3,113.1, 118.9,113.6,
119.4,113.3, 120.0,113.9, 120.5,113.4, 121.1,113.0,
108.7,112.4, 109.2,112.0, 109.8,112.7, 110.3,112.2, 110.9,112.9, 111.4,112.5, 112.0,112.1, 112.5,112.6, 113.1,112.3, 113.6,112.8,
114.2,112.0, 114.7,112.4, 115.3,112.7, 115.8,112.2, 116.4,112.5, 116.9,112.9, 117.5,112.1, 118.0,112.6, 118.6,112.3, 119.1,112.8,
119.7,112.0, 120.2,112.5, 120.8,112.2, 121.4,112.7,
108.4,111.8, 109.0,111.3, 109.5,111.6, 110.1,111.1, 110.6,111.4, 111.2,111.9, 111.7,111.2, 112.3,111.7, 112.8,111.0, 113.4,111.5,
113.9,111.8, 114.5,111.3, 115.0,111.1, 115.6,111.6, 116.1,111.9, 116.7,111.4, 117.2,111.7, 117.8,111.0, 118.3,111.5, 118.9,111.2,
119.4,111.8, 120.0,111.3, 120.5,111.6, 121.1,111.1,
108.7,110.2, 109.2,110.6, 109.8,110.9, 110.3,110.4, 110.9,110.0, 111.4,110.7, 112.0,110.3, 112.5,110.8, 113.1,110.5, 113.6,110.1,
114.2,110.6, 114.7,110.9, 115.3,110.4, 115.8,110.0, 116.4,110.7, 116.9,110.2, 117.5,110.8, 118.0,110.5, 118.6,110.1, 119.1,110.6,
119.7,110.3, 120.2,110.9, 120.8,110.4, 121.4,110.0,
108.4,109.4, 109.0,109.0, 109.5,109.7, 110.1,109.2, 110.6,109.9, 111.2,109.5, 111.7,109.1, 112.3,109.6, 112.8,109.3, 113.4,109.8,
113.9,109.0, 114.5,109.4, 115.0,109.7, 115.6,109.2, 116.1,109.5, 116.7,109.9, 117.2,109.1, 117.8,109.6, 118.3,109.3, 118.9,109.8,
119.4,109.0, 120.0,109.5, 120.5,109.2, 121.1,109.7,
108.7,108.8, 109.2,108.3, 109.8,108.6, 110.3,108.1, 110.9,108.4, 111.4,108.9, 112.0,108.2, 112.5,108.7, 113.1,108.0, 113.6,108.5,
114.2,108.8, 114.7,108.3, 115.3,108.1, 115.8,108.6, 116.4,108.9, 116.9,108.4, 117.5,108.7, 118.0,108.0, 118.6,108.5, 119.1,108.2,
119.7,108.8, 120.2,108.3, 120.8,108.6, 121.4,108.1,
108.9,107.5, 110.0,107.1, 111.1,107.8, 112.2,107.3, 113.3,107.6, 114.4,107.0, 115.5,107.7, 116.6,107.2, 117.7,107.9, 118.8,107.4,
119.9,107.1, 121.0,107.6,
108.5,105.8, 109.6,105.3, 110.7,105.9, 111.8,105.4, 112.9,105.7, 114.0,105.2, 115.1,105.8, 116.2,105.5, 117.3,105.1, 118.4,105.6,
119.5,105.3, 120.6,105.9,
108.9,122.4, 110.0,122.8, 111.1,122.2, 112.2,122.6, 113.3,122.0, 114.4,122.5, 115.5,122.9, 116.6,122.3, 117.7,122.7, 118.8,122.1,
119.9,122.6, 121.0,122.3,
// x 100-108, y 112-122
100.1,120.3, 100.5,121.4, 100.9,120.8, 101.3,121.9, 101.7,120.1, 102.1,121.1, 102.5,120.6, 102.9,121.7, 103.3,120.4, 103.7,121.2,
104.1,120.0, 104.5,121.6, 104.9,120.9, 105.3,121.3, 105.7,120.2, 106.1,121.8, 106.5,120.7, 106.9,121.0, 107.3,120.5, 107.7,121.5,
100.1,118.3, 100.5,119.4, 100.9,118.8, 101.3,119.9, 101.7,118.1, 102.1,119.1, 102.5,118.6, 102.9,119.7, 103.3,118.4, 103.7,119.2,
104.1,118.0, 104.5,119.6, 104.9,118.9, 105.3,119.3, 105.7,118.2, 106.1,119.8, 106.5,118.7, 106.9,119.0, 107.3,118.5, 107.7,119.5,
100.1,117.5, 100.5,116.5, 100.9,117.0, 101.3,116.7, 101.7,117.8, 102.1,116.2, 102.5,117.3, 102.9,116.9, 103.3,117.6, 103.7,116.0,
104.1,117.2, 104.5,116.4, 104.9,117.7, 105.3,116.6, 105.7,117.1, 106.1,116.1, 106.5,117.9, 106.9,116.8, 107.3,117.4, 107.7,116.3,
100.1,114.3, 100.5,115.4, 100.9,114.8, 101.3,115.9, 101.7,114.1, 102.1,115.1, 102.5,114.6, 102.9,115.7, 103.3,114.4, 103.7,115.2,
104.1,114.0, 104.5,115.6, 104.9,114.9, 105.3,115.3, 105.7,114.2, 106.1,115.8, 106.5,114.7, 106.9,115.0, 107.3,114.5, 107.7,115.5,
100.1,113.5, 100.5,112.5, 100.9,113.0, 101.3,112.7, 101.7,113.8, 102.1,112.2, 102.5,113.3, 102.9,112.9, 103.3,113.6, 103.7,112.0,
104.1,113.2, 104.5,112.4, 104.9,113.7, 105.3,112.6, 105.7,113.1, 106.1,112.1, 106.5,113.9, 106.9,112.8, 107.3,113.4, 107.7,112.3
];

// ---------------- layout ----------------
const W = 708, H = 536;
const plot = {left: 73, right: 691, top: 20, bottom: 483};
const svg = d3.select("#c");
svg.append("rect").attr("width", W).attr("height", H).attr("fill", "#f2f2f2");

const x = d3.scaleLinear().domain([60, 180]).range([plot.left, plot.right]);
const y = d3.scaleLinear().domain([60, 180]).range([plot.bottom, plot.top]);

const allPairs = massPairs.concat(massPairsDense, massPairsCore);
const points = d3.range(0, allPairs.length, 2).map(i => [allPairs[i], allPairs[i + 1]]);

// markers
svg.append("g").selectAll("rect").data(points).join("rect")
  .attr("x", d => Math.round(x(d[0])) - 1)
  .attr("y", d => Math.round(y(d[1])) - 1)
  .attr("width", 2).attr("height", 2)
  .attr("fill", "#000");

// frame
svg.append("rect")
  .attr("x", plot.left).attr("y", plot.top)
  .attr("width", plot.right - plot.left).attr("height", plot.bottom - plot.top)
  .attr("fill", "none").attr("stroke", "#000").attr("stroke-width", 2);

const minorX = d3.range(60, 180.01, 5).filter(v => !xMajorTicks.includes(v));
const minorY = d3.range(60, 180.01, 5).filter(v => !yMajorTicks.includes(v));

// x axis
const gx = svg.append("g").attr("transform", `translate(0,${plot.bottom})`);
gx.call(d3.axisBottom(x).tickValues(xMajorTicks).tickSizeInner(-14).tickSizeOuter(0).tickPadding(7).tickFormat(d3.format("d")));
gx.append("g").call(d3.axisBottom(x).tickValues(minorX).tickSizeInner(-7).tickSizeOuter(0).tickFormat(""));
gx.selectAll(".domain").remove();
gx.selectAll("line").attr("stroke", "#000").attr("stroke-width", 2);
gx.selectAll("text").attr("font-size", 18).attr("font-family", null).attr("fill", "#000")
  .attr("dx", -2);
gx.selectAll(".tick text").filter(d => d === xMajorTicks[xMajorTicks.length - 1])
  .attr("text-anchor", "end").attr("dx", 2);

// y axis
const gy = svg.append("g").attr("transform", `translate(${plot.left},0)`);
gy.call(d3.axisLeft(y).tickValues(yMajorTicks).tickSizeInner(-20).tickSizeOuter(0).tickPadding(7).tickFormat(d3.format("d")));
gy.append("g").call(d3.axisLeft(y).tickValues(minorY).tickSizeInner(-11).tickSizeOuter(0).tickFormat(""));
gy.selectAll(".domain").remove();
gy.selectAll("line").attr("stroke", "#000").attr("stroke-width", 2);
gy.selectAll("text").attr("font-size", 18).attr("font-family", null).attr("fill", "#000");

// titles
svg.append("text").attr("x", 648).attr("y", 528).attr("text-anchor", "end")
  .attr("font-size", 20).text(xTitle);
svg.append("text").attr("transform", "translate(31,62) rotate(-90)").attr("text-anchor", "end")
  .attr("font-size", 20).text(yTitle);

// stats box
const sb = svg.append("g");
sb.append("rect").attr("x", 602).attr("y", -2).attr("width", 130).attr("height", 119).attr("fill", "#000");
sb.append("rect").attr("x", 598).attr("y", -4).attr("width", 130).attr("height", 116)
  .attr("fill", "#f2f2f2").attr("stroke", "#000").attr("stroke-width", 1.5);
const rowBase = [12, 35, 59, 81, 107];
const valStart = [703, 695, 712, 702, 712];
sb.selectAll("text.lab").data(statsLabels).join("text").attr("class", "lab")
  .attr("x", 607).attr("y", (d, i) => rowBase[i]).attr("font-size", 16).text(d => d);
sb.selectAll("text.val").data(statsValues).join("text").attr("class", "val")
  .attr("x", (d, i) => valStart[i]).attr("y", (d, i) => rowBase[i]).attr("font-size", 16).text(d => d);
</script>
</body></html>
